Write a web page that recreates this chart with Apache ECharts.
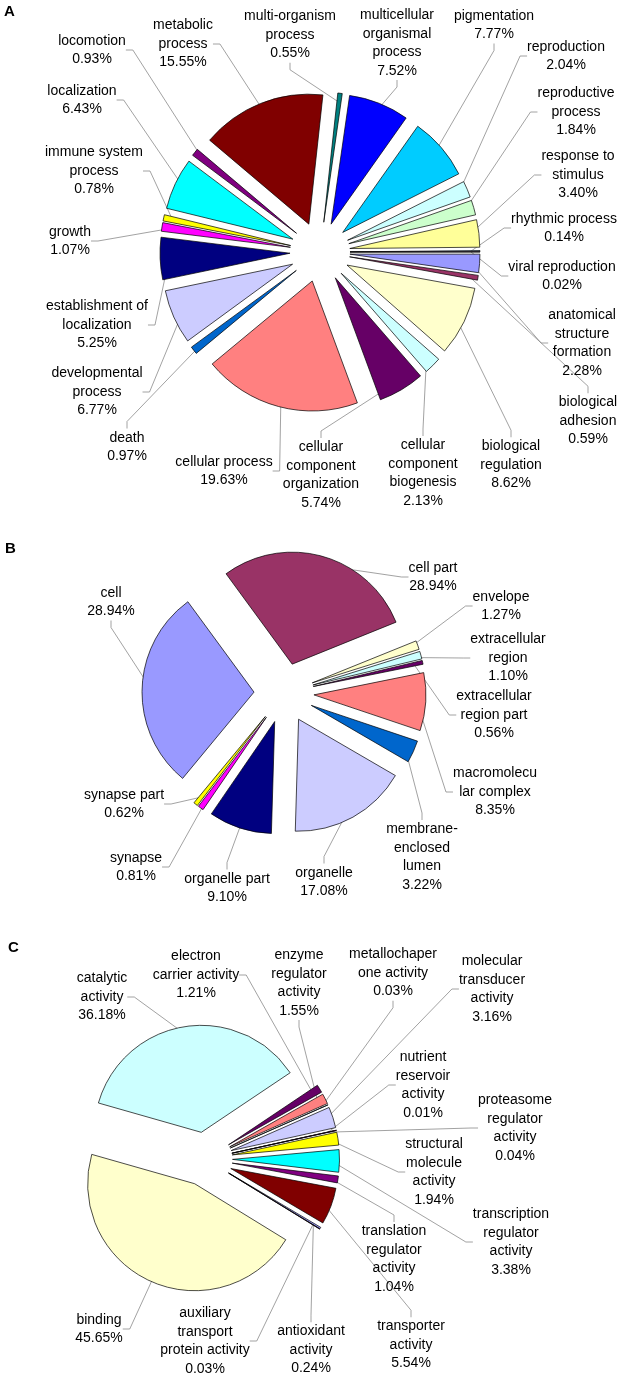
<!DOCTYPE html>
<html><head><meta charset="utf-8">
<script src="https://cdn.jsdelivr.net/npm/echarts@6/dist/echarts.min.js"></script>
<style>html,body{margin:0;padding:0;background:#fff}#c{width:620px;height:1379px}</style>
</head><body><div id="c"></div>
<script>
// ---------- DATA ----------
const categoriesA = ['anatomical\nstructure\nformation','biological\nadhesion','biological\nregulation','cellular\ncomponent\nbiogenesis','cellular\ncomponent\norganization','cellular process','death','developmental\nprocess','establishment of\nlocalization','growth','immune system\nprocess','localization','locomotion','metabolic\nprocess','multi-organism\nprocess','multicellular\norganismal\nprocess','pigmentation','reproduction','reproductive\nprocess','response to\nstimulus','rhythmic process','viral reproduction'];
const valuesA = [2.28,0.59,8.62,2.13,5.74,19.63,0.97,6.77,5.25,1.07,0.78,6.43,0.93,15.55,0.55,7.52,7.77,2.04,1.84,3.40,0.14,0.02];

const categoriesB = ['cell','cell part','envelope','extracellular\nregion','extracellular\nregion part','macromolecu\nlar complex','membrane-\nenclosed\nlumen','organelle','organelle part','synapse','synapse part'];
const valuesB = [28.94,28.94,1.27,1.10,0.56,8.35,3.22,17.08,9.10,0.81,0.62];

const categoriesC = ['antioxidant\nactivity','auxiliary\ntransport\nprotein activity','binding','catalytic\nactivity','electron\ncarrier activity','enzyme\nregulator\nactivity','metallochaper\none activity','molecular\ntransducer\nactivity','nutrient\nreservoir\nactivity','proteasome\nregulator\nactivity','structural\nmolecule\nactivity','transcription\nregulator\nactivity','translation\nregulator\nactivity','transporter\nactivity'];
const valuesC = [0.24,0.03,45.65,36.18,1.21,1.55,0.03,3.16,0.01,0.04,1.94,3.38,1.04,5.54];

// ---------- STYLE / LAYOUT ----------
const palette = ['#9999FF','#993366','#FFFFCC','#CCFFFF','#660066','#FF8080','#0066CC','#CCCCFF','#000080','#FF00FF','#FFFF00','#00FFFF','#800080','#800000','#008080','#0000FF','#00CCFF','#CCFFFF','#CCFFCC','#FFFF99','#99CCFF','#FF99CC'];

const labelPosA = [[582,343],[588,421],[511,465],[423,473],[321,475],[224,471],[127,447],[97,392],[97,325],[70,241],[94,171],[82,100],[92,50],[183,44],[290,35],[397,43],[494,25],[566,56],[576,112],[578,175],[564,228],[562,276]];
const labelPosB = [[111,602],[433,577],[501,606],[508,658],[494,715],[495,792],[422,857],[324,882],[227,888],[136,867],[124,804]];
const labelPosC = [[311,1350],[205,1341],[99,1329],[102,997],[196,975],[299,983],[393,973],[492,989],[423,1085],[515,1128],[434,1172],[511,1242],[394,1259],[411,1345]];

const geoA = {center:[320,252], r:130, offset:30, startAngle:0};
const geoB = {center:[284,693], r:112, offset:30, startAngle:230.4};
const geoC = {center:[205.5,1159], r:107, offset:27, startAngle:329.4};

const FONT = 'Liberation Sans, Arial, sans-serif';

function makePie(cats, vals, pos, geo) {
  const visible = {
    type:'pie', center:geo.center, radius:geo.r, startAngle:geo.startAngle, clockwise:true,
    selectedMode:'multiple', selectedOffset:geo.offset,
    data: cats.map((c,i)=>({name:c, value:vals[i], selected:true,
      itemStyle:{color:palette[i % palette.length]}})),
    label:{show:false}, labelLine:{show:false},
    itemStyle:{borderColor:'#000', borderWidth:0.7},
    select:{itemStyle:{borderColor:'#000', borderWidth:0.7}},
    emphasis:{disabled:true}, silent:true, z:3, animation:false, avoidLabelOverlap:false
  };
  const labels = {
    type:'pie', center:geo.center, radius:geo.r + geo.offset*0.7, startAngle:geo.startAngle, clockwise:true,
    data: cats.map((c,i)=>({name:c, value:vals[i], itemStyle:{color:'rgba(0,0,0,0)'}})),
    itemStyle:{color:'rgba(0,0,0,0)', borderWidth:0},
    label:{show:true, position:'outside', formatter:p => p.name + '\n' + p.value.toFixed(2) + '%',
      fontFamily:FONT, fontSize:14, lineHeight:18.5, color:'#000', align:'center'},
    labelLine:{show:true, length:10, length2:7, lineStyle:{color:'#8a8a8a', width:0.8}},
    labelLayout: p => ({x:pos[p.dataIndex][0], y:pos[p.dataIndex][1], align:'center', verticalAlign:'middle'}),
    avoidLabelOverlap:false, emphasis:{disabled:true}, silent:true, z:1, animation:false
  };
  return [labels, visible];
}

const chart = echarts.init(document.getElementById('c'), null, {renderer:'canvas'});
chart.setOption({
  backgroundColor:'#fff',
  animation:false,
  title:[
    {text:'A', left:4, top:4, padding:0, textStyle:{fontFamily:FONT, fontSize:15, fontWeight:'bold', color:'#000'}},
    {text:'B', left:5, top:541, padding:0, textStyle:{fontFamily:FONT, fontSize:15, fontWeight:'bold', color:'#000'}},
    {text:'C', left:8, top:940, padding:0, textStyle:{fontFamily:FONT, fontSize:15, fontWeight:'bold', color:'#000'}}
  ],
  series:[
    ...makePie(categoriesA, valuesA, labelPosA, geoA),
    ...makePie(categoriesB, valuesB, labelPosB, geoB),
    ...makePie(categoriesC, valuesC, labelPosC, geoC)
  ]
});
</script></body></html>
